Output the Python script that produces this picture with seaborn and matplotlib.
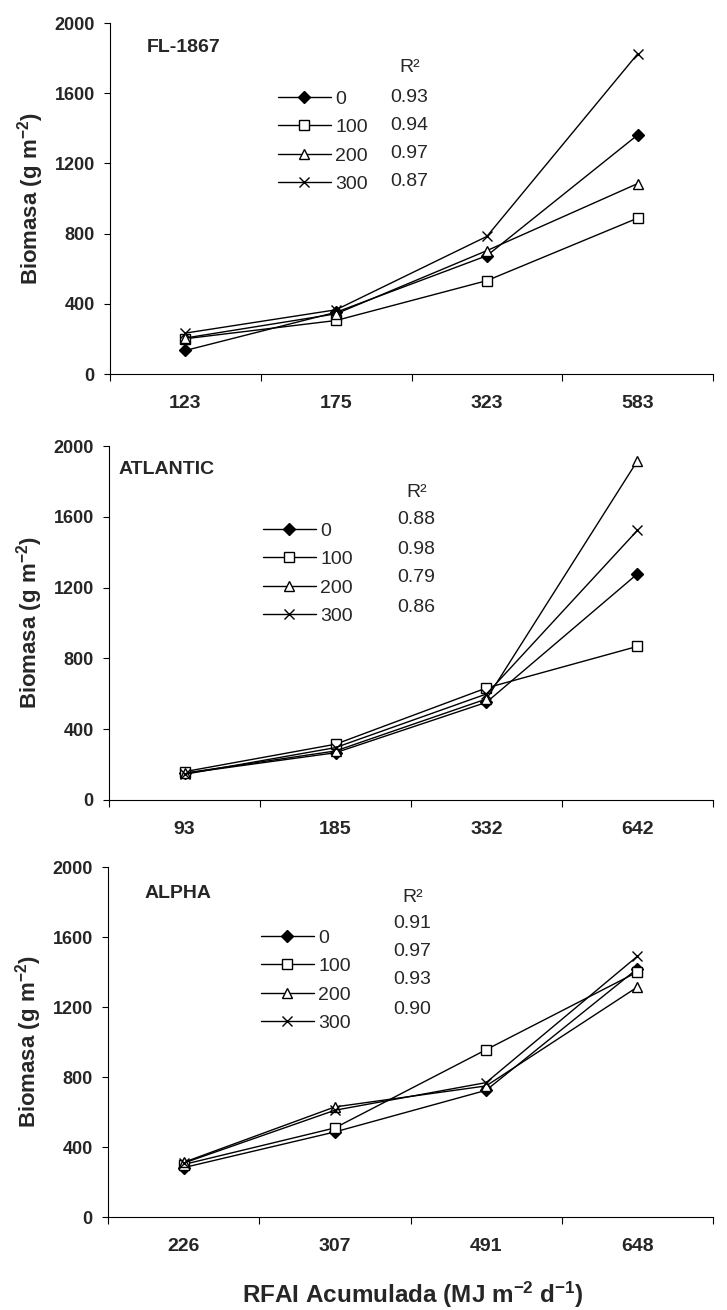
import matplotlib
matplotlib.use("Agg")
import matplotlib.pyplot as plt
import seaborn as sns
import numpy as np
import pandas as pd

# ---------------- data ----------------
doses = ["0", "100", "200", "300"]

fl_x = ["123", "175", "323", "583"]
fl_0 = [134, 352, 674, 1362]
fl_100 = [201, 305, 532, 888]
fl_200 = [205, 343, 703, 1085]
fl_300 = [233, 366, 784, 1824]
fl_r2 = ["0.93", "0.94", "0.97", "0.87"]

atl_x = ["93", "185", "332", "642"]
atl_0 = [150, 267, 552, 1278]
atl_100 = [160, 315, 633, 868]
atl_200 = [152, 277, 571, 1917]
atl_300 = [145, 296, 599, 1524]
atl_r2 = ["0.88", "0.98", "0.79", "0.86"]

alp_x = ["226", "307", "491", "648"]
alp_0 = [282, 486, 724, 1419]
alp_100 = [300, 509, 956, 1400]
alp_200 = [312, 629, 749, 1314]
alp_300 = [308, 610, 768, 1490]
alp_r2 = ["0.91", "0.97", "0.93", "0.90"]

titles = ["FL-1867", "ATLANTIC", "ALPHA"]
yticks = [0, 400, 800, 1200, 1600, 2000]

# ---------------- style ----------------
sns.set_theme(style="ticks")
plt.rcParams["font.family"] = ["Liberation Sans", "DejaVu Sans"]
plt.rcParams["mathtext.fontset"] = "custom"
plt.rcParams["mathtext.rm"] = "Liberation Sans:bold"
plt.rcParams["mathtext.default"] = "rm"

W, H = 727, 1310
fig = plt.figure(figsize=(W / 100, H / 100), dpi=100)

def px(x, y):
    return x / W, 1 - y / H

# axes rectangles: (left px, top px, right px, bottom px)
rects = [(110, 23, 713, 374), (109, 446, 713, 800), (108, 867, 713, 1217)]

styles = [
    dict(marker="D", markersize=6.5, markerfacecolor="black"),
    dict(marker="s", markersize=6.5, markerfacecolor="white"),
    dict(marker="^", markersize=7.5, markerfacecolor="white"),
    dict(marker="x", markersize=7.5, markerfacecolor="black"),
]

panels = [
    (fl_x, [fl_0, fl_100, fl_200, fl_300], fl_r2),
    (atl_x, [atl_0, atl_100, atl_200, atl_300], atl_r2),
    (alp_x, [alp_0, alp_100, alp_200, alp_300], alp_r2),
]

layout = [
    dict(title=(147, 47), leg=(278, 98), r2x=390, r2h=68, r2y=[97, 126, 153, 182], rows=[98, 127, 154, 182]),
    dict(title=(119, 470), leg=(263, 530), r2x=397, r2h=493, r2y=[520, 550, 578, 607], rows=[530, 558, 585, 612]),
    dict(title=(145, 893), leg=(261, 937), r2x=393, r2h=897, r2y=[923, 952, 980, 1009], rows=[937, 965, 990, 1018]),
]

for i, ((cats, series, r2), (l, t, r, b), lay) in enumerate(zip(panels, rects, layout)):
    ax = fig.add_axes([l / W, 1 - b / H, (r - l) / W, (b - t) / H])
    pos = np.arange(len(cats))
    for vals, st in zip(series, styles):
        df = pd.DataFrame({"x": pos, "y": vals})
        sns.lineplot(data=df, x="x", y="y", ax=ax, color="black", linewidth=1.0,
                     markeredgecolor="black", markeredgewidth=1.0, legend=False,
                     **st)
    ax.set_xlim(-0.5, len(cats) - 0.5)
    ax.set_ylim(0, 2000)
    ax.set_yticks(yticks)
    ax.set_yticklabels([str(v) for v in yticks], fontsize=13, fontweight="bold")
    ax.set_xticks(pos)
    ax.set_xticklabels(cats, fontsize=14, fontweight="bold")
    ax.set_xticks(np.arange(-0.5, len(cats), 1.0), minor=True)
    ax.tick_params(axis="x", which="major", length=0, pad=15)
    ax.tick_params(axis="x", which="minor", length=5, width=0.8, color="black", direction="out")
    ax.tick_params(axis="y", which="major", length=4, width=0.8, color="black", direction="out", pad=7)
    ax.set_xlabel("")
    ax.set_ylabel("Biomasa (g m$^{-2}$)", fontsize=16, fontweight="bold", labelpad=6)
    for s in ["top", "right"]:
        ax.spines[s].set_visible(False)
    for s in ["left", "bottom"]:
        ax.spines[s].set_color("black")
        ax.spines[s].set_linewidth(0.8)

    # panel title
    tx, ty = px(*lay["title"])
    fig.text(tx, ty, titles[i], fontsize=14, fontweight="bold", va="center", ha="left")

    # legend
    lx, ly = px(lay["leg"][0], lay["rows"][0] - 8)
    ax.legend(handles=ax.lines[:4], labels=doses, loc="upper left",
              bbox_to_anchor=(lx, ly), bbox_transform=fig.transFigure,
              frameon=False, fontsize=14, handlelength=2.7, handletextpad=0.25,
              labelspacing=0.56, borderpad=0, borderaxespad=0, numpoints=1)

    # R2 column
    hx, hy = px(lay["r2x"] + 9, lay["r2h"])
    fig.text(hx, hy, "R²", fontsize=14, va="center", ha="left")
    for val, yy in zip(r2, lay["r2y"]):
        vx, vy = px(lay["r2x"], yy)
        fig.text(vx, vy, val, fontsize=14, va="center", ha="left")

fx, fy = px(413, 1295)
fig.text(fx, fy, "RFAI Acumulada (MJ m$^{-2}$ d$^{-1}$)", fontsize=17.5, fontweight="bold",
         ha="center", va="center")

fig.savefig("out.png", dpi=100)
